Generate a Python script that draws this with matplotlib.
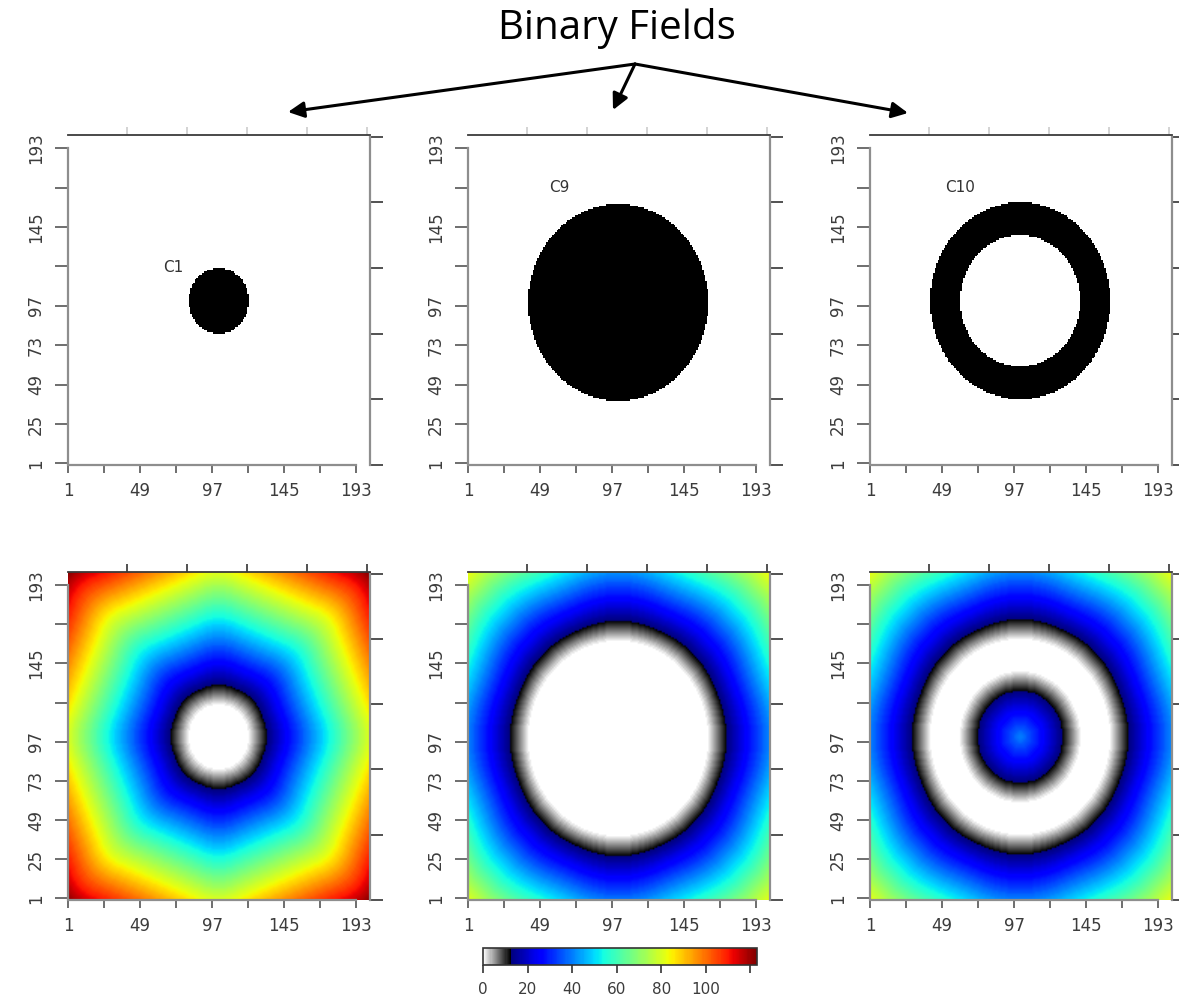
import numpy as np
import matplotlib
matplotlib.use('Agg')
import matplotlib.pyplot as plt
from matplotlib.colors import ListedColormap, Normalize
from matplotlib.patches import FancyArrowPatch

# binary fields: ring centre and radii (inner 0 = filled disc), grid units
names = ['C1', 'C9', 'C10']
cx = [101, 101, 101]
cy = [100, 99, 100]
r_inner = [0, 0, 40]
r_outer = [20, 60, 60]
label_x = [71, 62, 61]
label_y = [120, 169, 169]

x_ticks = [1, 25, 49, 73, 97, 121, 145, 169, 193]
x_labels = ['1', '', '49', '', '97', '', '145', '', '193']
y_ticks = [1, 25, 49, 73, 97, 121, 145, 169, 193]
y_labels = ['1', '25', '49', '73', '97', '', '145', '', '193']
side_ticks = [0, 40, 80, 120, 160, 200]
cbar_ticks = [0, 20, 40, 60, 80, 100, 120]
cbar_labels = ['0', '20', '40', '60', '80', '100', '']

title = 'Binary Fields'

# grid
n = 201
gx = np.arange(n) + 1.5
gy = np.arange(n) + 0.5
X, Y = np.meshgrid(gx, gy)


def chamfer(mask):
    # two pass chamfer distance (1, sqrt2) -> octagonal iso lines
    d = np.where(mask, 0.0, 1e6)
    idx = np.arange(d.shape[1], dtype=float)
    s2 = np.sqrt(2)
    for j in range(d.shape[0]):
        row = d[j].copy()
        if j > 0:
            p = d[j - 1]
            row = np.minimum(row, p + 1)
            row[1:] = np.minimum(row[1:], p[:-1] + s2)
            row[:-1] = np.minimum(row[:-1], p[1:] + s2)
        d[j] = np.minimum.accumulate(row - idx) + idx
    for j in range(d.shape[0] - 1, -1, -1):
        row = d[j].copy()
        if j < d.shape[0] - 1:
            p = d[j + 1]
            row = np.minimum(row, p + 1)
            row[1:] = np.minimum(row[1:], p[:-1] + s2)
            row[:-1] = np.minimum(row[:-1], p[1:] + s2)
        rev = row[::-1]
        d[j] = (np.minimum.accumulate(rev - idx) + idx)[::-1]
    return d


grey = np.linspace(1, 0, 26)
grey_part = np.column_stack([grey, grey, grey, np.ones(26)])
jet_part = plt.get_cmap('jet')(np.linspace(0, 1, 230))
cmap = ListedColormap(np.vstack([grey_part, jet_part]))
norm = Normalize(0, 123)

plt.rcParams['font.family'] = ['DejaVu Sans']
W, H = 1179, 1001
fig = plt.figure(figsize=(W / 100, H / 100), dpi=100)

col_left = [68, 468, 870]
row_top = [135, 572]
row_bot = [465, 900]
pw = 302
tick_col = '#555555'
lab_col = '#3c3c3c'
spine_col = '#8e8e8e'

im = None
for r in range(2):
    for c in range(3):
        rr = np.hypot(X - cx[c], Y - cy[c])
        mask = (rr <= r_outer[c]) & (rr >= r_inner[c])
        ax = fig.add_axes([col_left[c] / W, 1 - row_bot[r] / H,
                           pw / W, (row_bot[r] - row_top[r]) / H])
        if r == 0:
            ax.imshow(mask.astype(float), cmap='gray_r', vmin=0, vmax=1,
                      extent=(1, 202, 0, 201), origin='lower', aspect='auto',
                      interpolation='nearest')
            ax.text(label_x[c], label_y[c], names[c], ha='center', va='center',
                    fontsize=11, color='#333333')
        else:
            dist = chamfer(mask)
            im = ax.imshow(dist, cmap=cmap, norm=norm,
                           extent=(1, 202, 0, 201), origin='lower', aspect='auto',
                           interpolation='bilinear')
        ax.set_xlim(1, 202)
        ax.set_ylim(0, 201)
        ax.spines['top'].set_visible(False)
        ax.spines['right'].set_visible(False)
        for s in ['left', 'bottom']:
            ax.spines[s].set_bounds(1, 193)
            ax.spines[s].set_color(spine_col)
            ax.spines[s].set_linewidth(1.6)
        ax.set_xticks(x_ticks, x_labels)
        ax.set_yticks(y_ticks, y_labels)
        ax.tick_params(axis='x', length=6, width=1.2, color=tick_col, pad=6,
                       labelsize=12, labelcolor=lab_col)
        ax.tick_params(axis='y', length=9.5, width=1.2, color=tick_col, pad=7,
                       labelsize=12, labelcolor=lab_col, labelrotation=90)
        for t in ax.get_yticklabels():
            t.set_va('center')

        sr = ax.secondary_yaxis('right')
        sr.set_yticks(side_ticks)
        sr.tick_params(axis='y', length=9.5, width=1.2, color='#333333',
                       labelright=False)
        sr.spines['right'].set_bounds(0, 200)
        sr.spines['right'].set_color(spine_col)
        sr.spines['right'].set_linewidth(1.6)

        st = ax.secondary_xaxis('top')
        st.set_xticks(side_ticks)
        st.tick_params(axis='x', length=6, width=1.2,
                       color='#cccccc' if r == 0 else '#333333', labeltop=False)
        st.spines['top'].set_color('#3a3a3a')
        st.spines['top'].set_linewidth(1.3)

# colour bar
cax = fig.add_axes([483 / W, 1 - 965 / H, 274 / W, 17 / H])
cb = fig.colorbar(im, cax=cax, orientation='horizontal', ticks=cbar_ticks)
cb.set_ticklabels(cbar_labels)
cb.outline.set_linewidth(1.2)
cb.outline.set_edgecolor('#333333')
cax.tick_params(length=6, width=1.2, color='#333333', labelsize=11,
                labelcolor=lab_col, pad=6)

# title and arrows
fig.text(617 / W, 1 - 39 / H, title, ha='center', va='baseline',
         fontsize=29, family=['Open Sans', 'DejaVu Sans'])
apex = (635, 64)
tips = [(288, 112), (613, 110), (908, 113)]
for tx, ty in tips:
    arr = FancyArrowPatch((apex[0] / W, 1 - apex[1] / H), (tx / W, 1 - ty / H),
                          transform=fig.transFigure, arrowstyle='-|>',
                          mutation_scale=24, lw=2.2, color='black',
                          shrinkA=0, shrinkB=0)
    fig.add_artist(arr)

fig.savefig('out.png', dpi=100)
